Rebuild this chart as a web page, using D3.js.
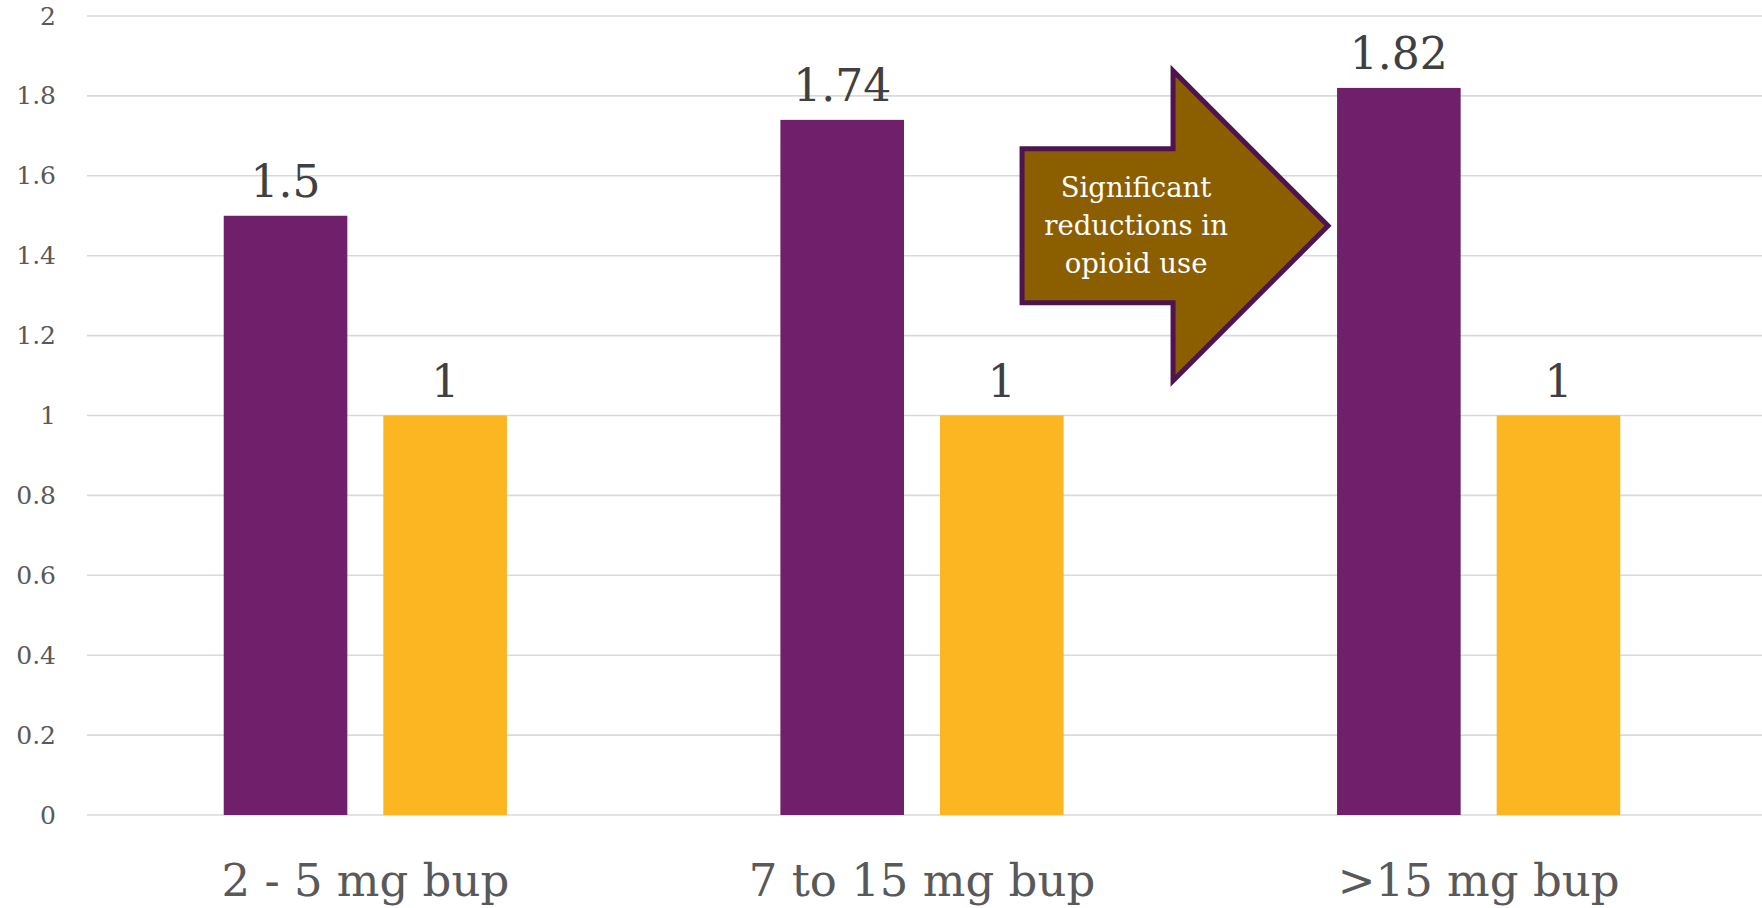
<!DOCTYPE html>
<html>
<head>
<meta charset="utf-8">
<script src="https://cdn.jsdelivr.net/npm/d3@7"></script>
<style>
  html, body { margin: 0; padding: 0; background: #ffffff; }
  svg { display: block; }
</style>
</head>
<body>
<svg id="chart" width="1762" height="908"></svg>
<script>
// Dose groups and the two compared series
const categories = ["2 - 5 mg bup", "7 to 15 mg bup", ">15 mg bup"];
const seriesNames = ["Dose group", "Reference"];
const doseValues = [1.5, 1.74, 1.82];
const referenceValues = [1, 1, 1];
const yTicks = [0, 0.2, 0.4, 0.6, 0.8, 1, 1.2, 1.4, 1.6, 1.8, 2];
const calloutLines = ["Significant", "reductions in", "opioid use"];

const colors = { "Dose group": "#70206a", "Reference": "#fbb621" };

const W = 1762, H = 908;
const margin = { left: 87, right: 5, top: 16, bottom: 93 };

const svg = d3.select("#chart");

const x0 = d3.scaleBand()
  .domain(categories)
  .range([margin.left, W - margin.right])
  .paddingInner(0)
  .paddingOuter(0);

const x1 = d3.scaleBand()
  .domain(seriesNames)
  .range([0, x0.bandwidth()])
  .paddingInner(0.2256)
  .paddingOuter(0.8566);

const y = d3.scaleLinear()
  .domain([0, 2])
  .range([H - margin.bottom, margin.top]);

// Horizontal gridlines
svg.append("g")
  .selectAll("line")
  .data(yTicks)
  .join("line")
  .attr("x1", margin.left)
  .attr("x2", W)
  .attr("y1", d => y(d))
  .attr("y2", d => y(d))
  .attr("stroke", "#d9d9d9")
  .attr("stroke-width", 1.6);

// Y axis labels
const yAxis = d3.axisLeft(y).tickValues(yTicks).tickSize(0).tickPadding(0)
  .tickFormat(d3.format("~g"));
const yg = svg.append("g")
  .attr("transform", `translate(56,0)`)
  .call(yAxis);
yg.select(".domain").remove();
yg.selectAll("text")
  .attr("font-family", "'DejaVu Serif', serif")
  .attr("font-size", 25)
  .attr("fill", "#595959");

// Bars
const rows = categories.map((c, i) => ({
  category: c,
  values: [
    { series: seriesNames[0], value: doseValues[i] },
    { series: seriesNames[1], value: referenceValues[i] }
  ]
}));

const groups = svg.append("g")
  .selectAll("g")
  .data(rows)
  .join("g")
  .attr("transform", d => `translate(${x0(d.category)},0)`);

groups.selectAll("rect")
  .data(d => d.values)
  .join("rect")
  .attr("x", d => x1(d.series))
  .attr("width", x1.bandwidth())
  .attr("y", d => y(d.value))
  .attr("height", d => y(0) - y(d.value))
  .attr("fill", d => colors[d.series]);

// Value labels above bars
groups.selectAll("text.value")
  .data(d => d.values)
  .join("text")
  .attr("class", "value")
  .attr("x", d => x1(d.series) + x1.bandwidth() / 2)
  .attr("y", d => y(d.value) - 19)
  .attr("text-anchor", "middle")
  .attr("font-family", "'DejaVu Serif', serif")
  .attr("font-size", 44)
  .attr("fill", "#404040")
  .text(d => d3.format("~g")(d.value));

// Category axis labels
const xAxis = d3.axisBottom(x0).tickSize(0).tickPadding(0);
const xg = svg.append("g")
  .attr("transform", `translate(0,${H - margin.bottom})`)
  .call(xAxis);
xg.select(".domain").remove();
xg.selectAll("text")
  .attr("dy", null)
  .attr("y", 81)
  .attr("font-family", "'DejaVu Serif', serif")
  .attr("font-size", 45)
  .attr("fill", "#595959");

// Callout arrow pointing at the highest-dose bar
const target = rows[2];
const tipX = x0(target.category) + x1(seriesNames[0]) - 9;
const tipY = y(1.475);
const headBaseX = tipX - 155;
const bodyLeft = tipX - 306;
const bodyHalf = 77;
const headHalf = 155;
const arrowPts = [
  [bodyLeft, tipY - bodyHalf],
  [headBaseX, tipY - bodyHalf],
  [headBaseX, tipY - headHalf],
  [tipX, tipY],
  [headBaseX, tipY + headHalf],
  [headBaseX, tipY + bodyHalf],
  [bodyLeft, tipY + bodyHalf]
];
svg.append("path")
  .attr("d", d3.line()(arrowPts) + "Z")
  .attr("fill", "#8b5e00")
  .attr("stroke", "#4e1450")
  .attr("stroke-width", 5)
  .attr("stroke-linejoin", "miter");

const textCx = bodyLeft + 114;
svg.append("text")
  .attr("text-anchor", "middle")
  .attr("font-family", "'DejaVu Serif', serif")
  .attr("font-size", 27.5)
  .attr("fill", "#ffffff")
  .selectAll("tspan")
  .data(calloutLines)
  .join("tspan")
  .attr("x", textCx)
  .attr("y", (d, i) => tipY - 38 + i * 38)
  .attr("dy", "0.35em")
  .text(d => d);
</script>
</body>
</html>
